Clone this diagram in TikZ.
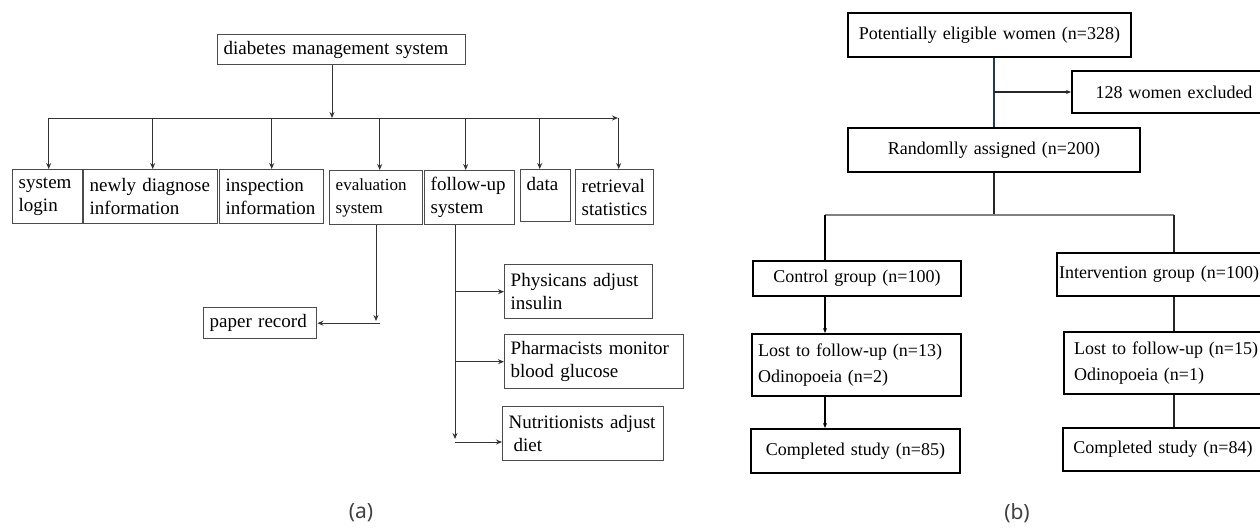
\documentclass[tikz,border=0pt]{standalone}
\usepackage{fontspec}
\setmainfont{Liberation Serif}
\newfontfamily\capfont{Noto Sans}
\usetikzlibrary{arrows.meta,calc}

\tikzset{
  abox/.style={draw=black!70, line width=1.4pt, anchor=north west, inner xsep=6pt, inner ysep=0pt, align=left, font=\fontsize{19}{23}\selectfont},
  bbox/.style={draw=black, line width=2pt, anchor=north west, inner xsep=6pt, inner ysep=0pt, align=center, font=\fontsize{18}{26}\selectfont},
  aline/.style={draw=black!80, line width=1pt},
  aarr/.style={aline, -{Stealth[length=6pt,width=5pt]}},
  bline/.style={draw=black!85, line width=1.6pt},
  bthick/.style={draw=black, line width=2.4pt},
  barr/.style={bline, -{Stealth[length=5pt,width=4pt]}},
  captxt/.style={font=\capfont\fontsize{21}{25}\selectfont, text=black!75},
}

\begin{document}
\begin{tikzpicture}[x=1pt,y=1pt,yscale=-1]
\clip (0,0) rectangle (1260,528);
\useasboundingbox (0,0) rectangle (1260,528);

%% (a) diabetes management system
% Text Node
\node[abox, text width=236pt, minimum height=30pt] (root) at (217,34) {diabetes management system};
% Text Node
\node[abox, text width=58pt, minimum height=54pt] (login) at (12,169) {system\\login};
\node[abox, text width=122pt, minimum height=54pt] (newly) at (83,169) {newly diagnose\\information};
\node[abox, text width=92pt, minimum height=54pt] (insp) at (219,169) {inspection\\information};
\node[abox, text width=81pt, minimum height=54pt, font=\fontsize{17}{23}\selectfont] (eval) at (329,170) {evaluation\\system};
\node[abox, text width=78pt, minimum height=54pt] (follow) at (424,170) {follow-up\\system};
\node[abox, text width=38pt, minimum height=52pt] (data) at (520,169) {data\\\mbox{}};
\node[abox, text width=66pt, minimum height=55pt] (retr) at (575,169) {retrieval\\statistics};
% Text Node
\node[abox, text width=101pt, minimum height=31pt] (paper) at (203,307) {paper record};
\node[abox, text width=136pt, minimum height=54pt] (phys) at (504,264) {Physicans adjust\\insulin};
\node[abox, text width=167pt, minimum height=54pt] (pharm) at (504,334) {Pharmacists monitor\\blood glucose};
\node[abox, text width=149pt, minimum height=54pt] (nutri) at (502,406) {Nutritionists adjust\\\hspace*{5pt}diet};

%Straight Lines
\coordinate (hub) at (332,118);
\coordinate (busL) at (48,118);
\coordinate (busR) at (618,118);
\draw[aarr] (root.south -| hub) -- (hub);
\draw[aarr] (busL) -- (busR);
\foreach \n/\s in {login/1,newly/2,insp/0,eval/3.5,follow/-4,data/-6,retr/4}{
  \coordinate (d\n) at ([xshift=\s pt]\n.north);
  \draw[aarr] (d\n |- busL) -- (d\n);
}
%Straight Lines
\coordinate (evalEnd) at (376,321);
\draw[aarr] (eval.south -| evalEnd) -- (evalEnd);
\draw[aarr] ([xshift=4pt]evalEnd |- paper.east) -- (paper.east);
%Straight Lines
\coordinate (trunk) at (455,439);
\draw[aarr] (follow.south -| trunk) -- (trunk);
\draw[aarr] (trunk |- phys.west) -- (phys.west);
\draw[aarr] (trunk |- pharm.west) -- (pharm.west);
\coordinate (nutriIn) at ($(nutri.south west)!0.35!(nutri.north west)$);
\draw[aarr] (trunk |- nutriIn) -- (nutriIn);

%% (b) study flow
% Text Node
\node[bbox, text width=271pt, minimum height=44pt] (pot) at (847,12) {Potentially eligible women (n=328)};
\node[bbox, text width=192pt, minimum height=42pt] (excl) at (1071,70) {128 women excluded};
\node[bbox, text width=280pt, minimum height=44pt] (rand) at (847,127) {Randomlly assigned (n=200)};
% Text Node
\node[bbox, text width=196pt, minimum height=35pt] (ctrl) at (752,260) {Control group (n=100)};
\node[bbox, align=left, inner xsep=2pt, text width=220pt, minimum height=43pt] (intv) at (1056,252) {Intervention group (n=100)};
\node[bbox, align=left, text width=197pt, minimum height=62pt] (lostL) at (751,333) {Lost to follow-up (n=13)\\Odinopoeia (n=2)};
\node[bbox, align=left, inner xsep=10pt, text width=200pt, minimum height=62pt] (lostR) at (1063,331) {Lost to follow-up (n=15)\\Odinopoeia (n=1)};
\node[bbox, text width=197pt, minimum height=44pt] (compL) at (750,428) {Completed study (n=85)};
\node[bbox, text width=188pt, minimum height=43pt] (compR) at (1062,427) {Completed study (n=84)};

%Straight Lines
\draw[draw={rgb,255:red,32;green,56;blue,100}, line width=1.6pt] (pot.south -| rand.north) -- (rand.north);
\draw[barr] (excl.west -| rand.north) -- (excl.west);
\coordinate (dropL) at (825,215);
\coordinate (dropR) at (1174,215);
\draw[bline] (rand.south) -- (rand.south |- dropL);
\draw[draw=black!50, line width=1.3pt] (dropL) -- (dropR);
\draw[bthick] (dropL) -- (dropL |- ctrl.north);
\draw[bline] (dropR) -- (dropR |- intv.north);
\draw[bthick, -{Stealth[length=5pt,width=4pt]}] (dropL |- ctrl.south) -- (dropL |- lostL.north);
\draw[bthick, -{Stealth[length=5pt,width=4pt]}] (dropL |- lostL.south) -- (dropL |- compL.north);
\draw[bline] (dropR |- intv.south) -- (dropR |- lostR.north);
\draw[bline] (dropR |- lostR.south) -- (dropR |- compR.north);

% Text Node
\node[captxt] (capA) at (361,513) {(a)};
\node[captxt] (capB) at (1017,513) {(b)};

\end{tikzpicture}
\end{document}
